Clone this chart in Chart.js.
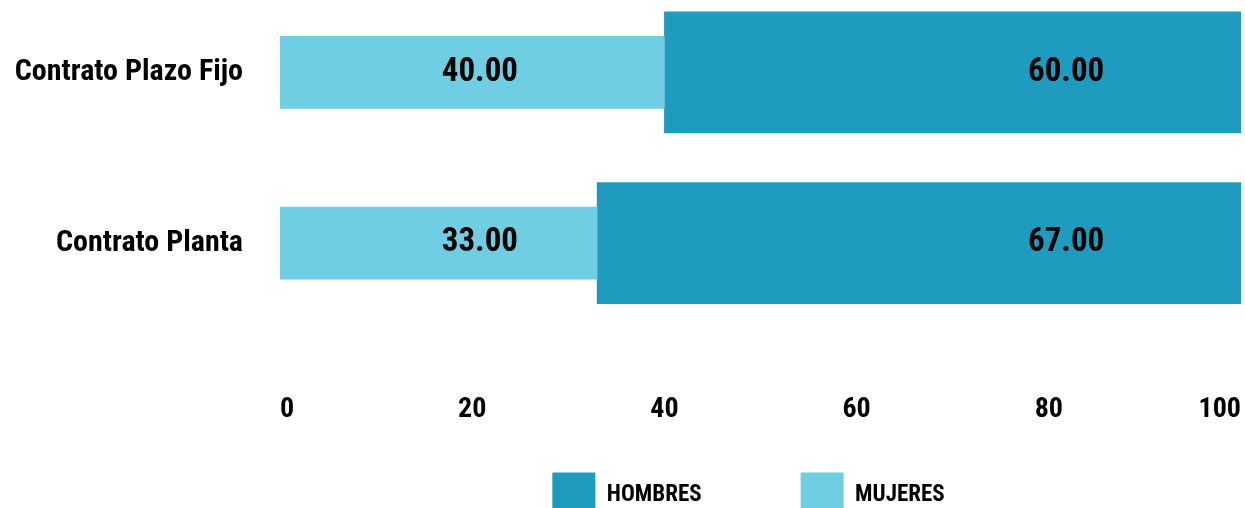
<!DOCTYPE html>
<html lang="es">
<head>
<meta charset="utf-8">
<title>Tipo de contrato por sexo</title>
<script src="https://cdn.jsdelivr.net/npm/chart.js@4/dist/chart.umd.min.js"></script>
<style>
  html, body { margin: 0; padding: 0; background: #fff; overflow: hidden; }
  #wrap { position: relative; width: 1245px; height: 508px; overflow: hidden; }
  #contratos { position: absolute; left: 0; top: -13px; }
</style>
</head>
<body>
<div id="wrap">
  <canvas id="contratos" width="1245" height="659"></canvas>
</div>
<script>
const categorias = ["Contrato Plazo Fijo", "Contrato Planta"];
const mujeres = [40, 33];
const hombres = [60, 67];
const ejeX = [0, 20, 40, 60, 80, 100];

const AZUL = "#1E9BBF";
const CELESTE = "#6FCEE1";
const FUENTE = '"Roboto Condensed", "DejaVu Sans Condensed", sans-serif';

Chart.defaults.font.family = FUENTE;
Chart.defaults.font.weight = "bold";
Chart.defaults.color = "#000";

// where each series' value text sits, as a share of the plot width
const posEtiqueta = [0.208, 0.818];

const etiquetasValor = {
  id: "etiquetasValor",
  afterDatasetsDraw(chart) {
    const { ctx, chartArea } = chart;
    ctx.save();
    ctx.font = `bold 33px ${FUENTE}`;
    ctx.fillStyle = "#000";
    ctx.textAlign = "center";
    ctx.textBaseline = "middle";
    chart.data.datasets.forEach((ds, i) => {
      const meta = chart.getDatasetMeta(i);
      const x = chartArea.left + posEtiqueta[i] * (chartArea.right - chartArea.left);
      meta.data.forEach((bar, j) => {
        ctx.fillText(ds.data[j].toFixed(2), x, bar.y);
      });
    });
    ctx.restore();
  }
};

// legend row: centred under the bars, a fixed distance below the plot
const leyenda = {
  id: "leyenda",
  afterLayout(chart) {
    const lg = chart.legend;
    if (!lg) return;
    const area = chart.chartArea;
    const dx = (area.left + area.right) / 2 - 12 - (lg.left + lg.right) / 2;
    const dy = area.bottom + 144 - lg.options.labels.padding - lg.top;
    lg.left += dx;
    lg.right += dx;
    lg.top += dy;
    lg.bottom += dy;
  }
};

new Chart(document.getElementById("contratos"), {
  type: "bar",
  data: {
    labels: categorias,
    datasets: [
      {
        label: "MUJERES",
        data: mujeres,
        backgroundColor: CELESTE,
        borderWidth: 0,
        barThickness: 72,
      },
      {
        label: "HOMBRES",
        data: hombres,
        backgroundColor: AZUL,
        borderWidth: 0,
        barThickness: 121,
      }
    ]
  },
  options: {
    indexAxis: "y",
    responsive: false,
    animation: false,
    layout: { padding: { top: 0, left: 0, right: 4, bottom: 0 } },
    scales: {
      x: {
        stacked: true,
        min: ejeX[0],
        max: ejeX[ejeX.length - 1],
        afterBuildTicks: (scale) => { scale.ticks = ejeX.map(v => ({ value: v })); },
        afterFit: (scale) => { scale.paddingLeft = 0; scale.paddingRight = 0; },
        grid: { display: false, drawTicks: false },
        border: { display: false },
        ticks: {
          align: "inner",
          padding: 65,
          font: { size: 28, weight: "bold" },
          color: "#000",
        }
      },
      y: {
        stacked: true,
        afterFit: (scale) => {
          scale.width = 280;
          scale.paddingTop = 0;
          scale.paddingBottom = 0;
        },
        grid: { display: false, drawTicks: false },
        border: { display: false },
        ticks: {
          padding: 37,
          font: { size: 30, weight: "bold" },
          color: "#000",
        }
      }
    },
    plugins: {
      legend: {
        position: "bottom",
        reverse: true,
        labels: {
          boxWidth: 43,
          boxHeight: 45,
          padding: 99,
          font: { size: 23, weight: "bold" },
          color: "#000",
        }
      },
      tooltip: { enabled: false }
    }
  },
  plugins: [etiquetasValor, leyenda]
});
</script>
</body>
</html>
